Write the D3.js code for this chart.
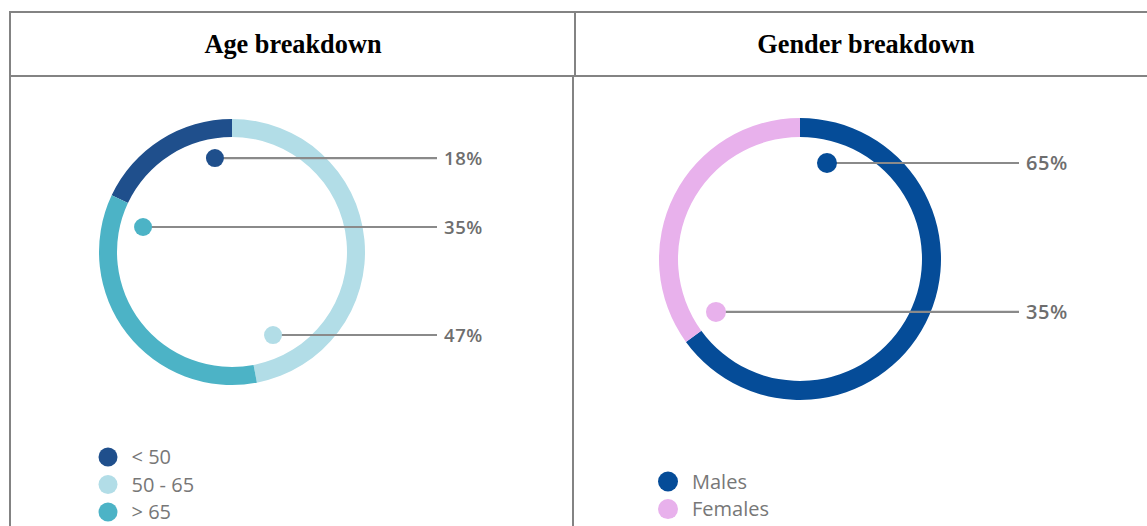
<!DOCTYPE html>
<html>
<head>
<meta charset="utf-8">
<script src="https://cdn.jsdelivr.net/npm/d3@7"></script>
<style>
  html, body { margin: 0; padding: 0; background: #fff; }
  svg { display: block; }
</style>
</head>
<body>
<svg id="chart" width="1147" height="526"></svg>
<script>
// ---- data ----
const titles = ["Age breakdown", "Gender breakdown"];
const ageCategories = ["< 50", "50 - 65", "> 65"];
const ageValues = [18, 47, 35];
const ageColors = ["#1f4f8c", "#b2dde7", "#4cb3c6"];
const genderCategories = ["Males", "Females"];
const genderValues = [65, 35];
const genderColors = ["#054c98", "#e8b1ec"];

// ---- layout ----
const W = 1147, H = 526;
const svg = d3.select("#chart");
svg.append("rect").attr("width", W).attr("height", H).attr("fill", "#fff");

const border = "#838383";
const g = svg.append("g").attr("stroke", border).attr("stroke-width", 2).attr("fill", "none");
g.append("line").attr("x1", 10).attr("x2", W).attr("y1", 12).attr("y2", 12);
g.append("line").attr("x1", 10).attr("x2", W).attr("y1", 76).attr("y2", 76);
g.append("line").attr("x1", 10).attr("x2", 10).attr("y1", 11).attr("y2", H);
g.append("line").attr("x1", 575).attr("x2", 575).attr("y1", 12).attr("y2", 76);
g.append("line").attr("x1", 573).attr("x2", 573).attr("y1", 76).attr("y2", H);

const titleX = [293, 866];
svg.selectAll("text.title").data(titles).join("text")
  .attr("class", "title")
  .attr("x", (d, i) => titleX[i]).attr("y", 53)
  .attr("text-anchor", "middle")
  .attr("font-family", "'Liberation Serif', 'Times New Roman', serif")
  .attr("font-weight", "bold").attr("font-size", 26.3)
  .attr("fill", "#000")
  .text(d => d);

function donut(opts) {
  const { cats, vals, colors, cx, cy, rOut, rIn, startAngle, dots, lineEnd, labelX, labelSize,
          legendX, legendY, legendStep, legendR, legendSize, dotR } = opts;
  const root = svg.append("g").attr("transform", `translate(${cx},${cy})`);
  const pie = d3.pie().sort(null).value(d => d.v)
    .startAngle(startAngle).endAngle(startAngle + 2 * Math.PI);
  const data = cats.map((c, i) => ({ c, v: vals[i], color: colors[i], dot: dots[i] }));
  const arcs = pie(data);
  const arc = d3.arc().innerRadius(rIn).outerRadius(rOut);
  root.selectAll("path").data(arcs).join("path")
    .attr("d", arc).attr("fill", d => d.data.color);

  const pos = d => {
    const a = d.dot.a * Math.PI / 180;
    return [d.dot.r * Math.sin(a), -d.dot.r * Math.cos(a)];
  };
  root.selectAll("line.lead").data(data).join("line")
    .attr("class", "lead")
    .attr("x1", d => pos(d)[0]).attr("y1", d => pos(d)[1])
    .attr("x2", lineEnd - cx).attr("y2", d => pos(d)[1])
    .attr("stroke", "#8a8a8a").attr("stroke-width", 2.2);
  root.selectAll("circle.dot").data(data).join("circle")
    .attr("class", "dot")
    .attr("cx", d => pos(d)[0]).attr("cy", d => pos(d)[1])
    .attr("r", dotR).attr("fill", d => d.color);
  root.selectAll("text.pct").data(data).join("text")
    .attr("class", "pct")
    .attr("x", labelX - cx).attr("y", d => pos(d)[1])
    .attr("dy", "0.36em")
    .attr("font-family", "'Open Sans', sans-serif")
    .attr("font-weight", 600).attr("font-size", labelSize)
    .attr("letter-spacing", 0.6)
    .attr("fill", "#6e6e6e")
    .text(d => d.v + "%");

  const leg = svg.append("g");
  const items = leg.selectAll("g").data(data).join("g")
    .attr("transform", (d, i) => `translate(${legendX},${legendY + i * legendStep})`);
  items.append("circle").attr("r", legendR).attr("fill", d => d.color);
  items.append("text")
    .attr("x", legendR + 14).attr("dy", "0.36em")
    .attr("font-family", "'Open Sans', sans-serif")
    .attr("font-size", legendSize).attr("fill", "#777")
    .text(d => d.c);
}

donut({
  cats: ageCategories, vals: ageValues, colors: ageColors,
  cx: 232, cy: 252, rOut: 133, rIn: 115,
  startAngle: -2 * Math.PI * ageValues[0] / 100,
  dots: [{ a: -10.3, r: 95.5 }, { a: 153.7, r: 92.6 }, { a: -74.3, r: 92.4 }],
  dotR: 9, lineEnd: 437, labelX: 444, labelSize: 18.5,
  legendX: 108, legendY: 457, legendStep: 27.5, legendR: 9.5, legendSize: 20
});

donut({
  cats: genderCategories, vals: genderValues, colors: genderColors,
  cx: 800, cy: 259, rOut: 141, rIn: 122,
  startAngle: 0,
  dots: [{ a: 15.7, r: 99.7 }, { a: -122.2, r: 99.3 }],
  dotR: 10, lineEnd: 1019, labelX: 1026, labelSize: 20,
  legendX: 668, legendY: 481.5, legendStep: 27.6, legendR: 10, legendSize: 20
});
</script>
</body>
</html>
